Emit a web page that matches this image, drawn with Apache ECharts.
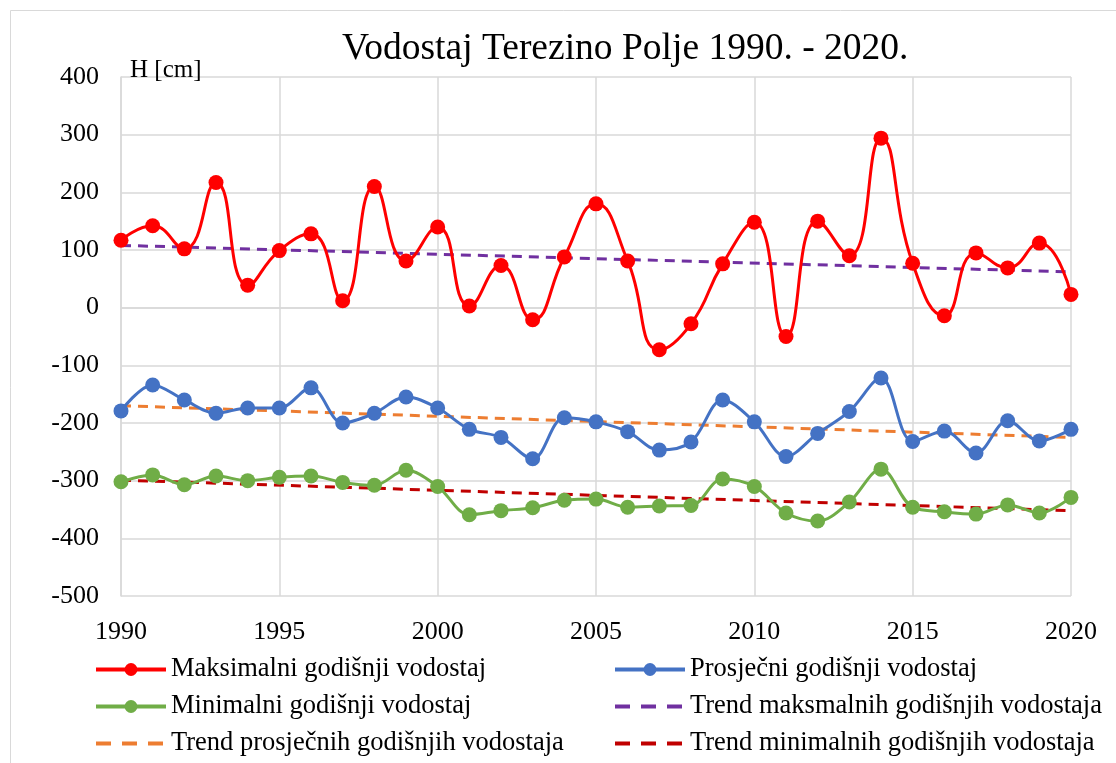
<!DOCTYPE html>
<html>
<head>
<meta charset="utf-8">
<script src="https://cdn.jsdelivr.net/npm/echarts@6/dist/echarts.min.js"></script>
<style>html,body{margin:0;padding:0;background:#fff}#c{width:1116px;height:763px}</style>
</head>
<body>
<div id="c"></div>
<script>
const years = [1990,1991,1992,1993,1994,1995,1996,1997,1998,1999,2000,2001,2002,2003,2004,2005,2006,2007,2008,2009,2010,2011,2012,2013,2014,2015,2016,2017,2018,2019,2020];
const maxVals = [117,142,102,217,39,99,128,12,210,81,140,3,73,-21,88,180,81,-73,-28,76,148,-50,150,90,294,77,-14,95,69,112,23];
const avgVals = [-179,-134,-160,-183,-174,-174,-139,-200,-183,-155,-174,-211,-225,-262,-191,-198,-215,-247,-233,-160,-198,-258,-218,-180,-122,-232,-214,-252,-196,-231,-211];
const minVals = [-302,-290,-307,-292,-300,-294,-292,-303,-308,-282,-310,-359,-352,-347,-334,-332,-346,-344,-343,-297,-310,-356,-370,-337,-280,-346,-354,-358,-342,-356,-329];
const trendYears = [1990, 2020];
const trendMax = [108, 62];
const trendAvg = [-170, -225];
const trendMin = [-299, -352];
const names = ['Maksimalni godišnji vodostaj','Prosječni godišnji vodostaj','Minimalni godišnji vodostaj','Trend maksmalnih godišnjih vodostaja','Trend prosječnih godišnjih vodostaja','Trend minimalnih godišnjih vodostaja'];
const titleText = 'Vodostaj Terezino Polje 1990. - 2020.';
const yName = 'H [cm]';

const pair = (xs, ys) => xs.map((x, i) => [x, ys[i]]);
const FONT = '"Liberation Serif", "Times New Roman", serif';

function dataSeries(name, vals, color, smooth) {
  return {
    name, type: 'line', data: pair(years, vals), smooth,
    symbol: 'circle', symbolSize: 15, showSymbol: true,
    lineStyle: { color, width: 3 }, itemStyle: { color },
    emphasis: { disabled: true }, z: 3
  };
}
function trendSeries(name, vals, color) {
  return {
    name, type: 'line', data: pair(trendYears, vals), symbol: 'none',
    lineStyle: { color, width: 3, type: [10, 7] }, itemStyle: { color },
    emphasis: { disabled: true }, z: 2
  };
}
const legendItem = (n) => ({ name: n });
const legendTrend = (n) => ({ name: n, itemStyle: { opacity: 0 }, lineStyle: { type: [15, 11], width: 4 } });
const legendText = { fontFamily: FONT, fontSize: 26.5, color: '#000' };

const chart = echarts.init(document.getElementById('c'), null, { renderer: 'canvas' });
chart.setOption({
  animation: false,
  backgroundColor: '#fff',
  title: { text: titleText, left: 337, top: 25, textStyle: { fontFamily: FONT, fontSize: 37.5, fontWeight: 'normal', color: '#000' } },
  graphic: [
    { type: 'rect', shape: { x: 10.5, y: 10.5, width: 1200, height: 800 }, style: { fill: 'none', stroke: '#d9d9d9', lineWidth: 1 }, silent: true },
    { type: 'text', left: 130, top: 58, style: { text: yName, font: '25px ' + FONT, fill: '#000' }, z: 10 }
  ],
  grid: { left: 121, right: 45, top: 77, bottom: 167, containLabel: false },
  legend: [
    { data: [legendItem(names[0]), legendItem(names[2]), legendTrend(names[4])], orient: 'vertical', left: 89, top: 651,
      itemWidth: 70, itemHeight: 16, itemGap: 10, lineStyle: { width: 4 }, textStyle: legendText },
    { data: [legendItem(names[1]), legendTrend(names[3]), legendTrend(names[5])], orient: 'vertical', left: 608, top: 651,
      itemWidth: 70, itemHeight: 16, itemGap: 10, lineStyle: { width: 4 }, textStyle: legendText }
  ],
  xAxis: {
    type: 'value', min: 1990, max: 2020, interval: 5,
    axisLine: { show: true, lineStyle: { color: '#d9d9d9', width: 1.5 } },
    axisTick: { show: false },
    splitLine: { show: true, lineStyle: { color: '#d9d9d9', width: 1.5 } },
    axisLabel: { fontFamily: FONT, fontSize: 26, color: '#000', margin: 23, formatter: (v) => String(v) }
  },
  yAxis: {
    type: 'value', min: -500, max: 400, interval: 100,
    axisLine: { show: true, lineStyle: { color: '#d9d9d9', width: 1.5 } },
    axisTick: { show: false },
    splitLine: { show: true, lineStyle: { color: '#d9d9d9', width: 1.5 } },
    axisLabel: { fontFamily: FONT, fontSize: 26, color: '#000', margin: 22 }
  },
  series: [
    dataSeries(names[0], maxVals, '#FF0000', 0.5),
    dataSeries(names[1], avgVals, '#4472C4', 0.35),
    dataSeries(names[2], minVals, '#70AD47', 0.35),
    trendSeries(names[3], trendMax, '#7030A0'),
    trendSeries(names[4], trendAvg, '#ED7D31'),
    trendSeries(names[5], trendMin, '#C00000')
  ]
});
</script>
</body>
</html>
